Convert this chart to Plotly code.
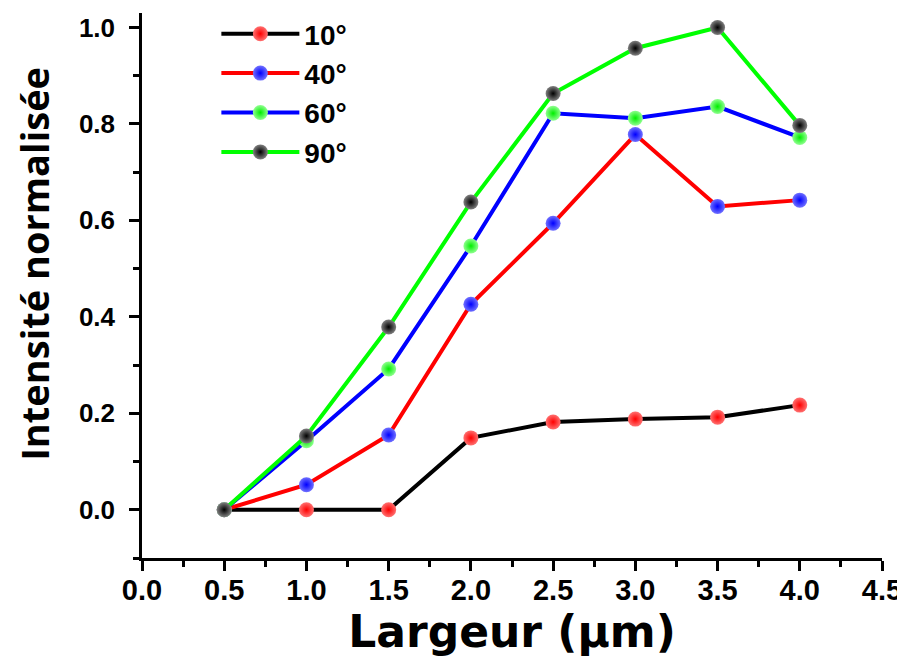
import plotly.graph_objects as go

largeur = [0.5, 1.0, 1.5, 2.0, 2.5, 3.0, 3.5, 4.0]
int_10 = [0.0, 0.0, 0.0, 0.149, 0.182, 0.188, 0.192, 0.217]
int_40 = [0.0, 0.052, 0.155, 0.426, 0.594, 0.778, 0.629, 0.642]
int_60 = [0.0, 0.143, 0.292, 0.547, 0.822, 0.812, 0.836, 0.772]
int_90 = [0.0, 0.153, 0.379, 0.638, 0.863, 0.957, 1.0, 0.797]
labels = ["10°", "40°", "60°", "90°"]
x_ticks = [0.0, 0.5, 1.0, 1.5, 2.0, 2.5, 3.0, 3.5, 4.0, 4.5]
y_ticks = [0.0, 0.2, 0.4, 0.6, 0.8, 1.0]

series = [int_10, int_40, int_60, int_90]
line_colors = ["#000000", "#FF0000", "#0000FF", "#00FF00"]
marker_centers = ["#FF7070", "#7070FF", "#90FF90", "#808080"]
marker_edges = ["#FF0000", "#0000FF", "#00EE00", "#000000"]

fig = go.Figure()
for vals, name, lc, mc, me in zip(series, labels, line_colors, marker_centers, marker_edges):
    fig.add_trace(go.Scatter(
        x=largeur, y=vals, name=name, mode="lines+markers",
        line=dict(color=lc, width=4),
        marker=dict(size=15, color=mc, gradient=dict(type="radial", color=me),
                    line=dict(width=0)),
    ))

fig.add_annotation(
    text="Intensité normalisée", textangle=-90,
    xref="paper", yref="paper", x=-0.1459, y=0.54,
    xanchor="center", yanchor="middle", showarrow=False,
    font=dict(size=38, family="Open Sans", weight="bold", color="black"),
)

fig.update_layout(
    width=897, height=656,
    margin=dict(l=134, r=23, t=5, b=106, autoexpand=False),
    paper_bgcolor="white", plot_bgcolor="white",
    font=dict(family="Liberation Sans, Arial, sans-serif", color="black"),
    showlegend=True,
    legend=dict(x=0.1005, y=1.0073, xanchor="left", yanchor="top",
                font=dict(size=28, family="Liberation Sans, Arial", weight="bold"),
                itemwidth=78, bgcolor="rgba(0,0,0,0)", borderwidth=0),
    xaxis=dict(
        range=[0, 4.5], tickvals=x_ticks, ticktext=[f"{v:.1f}" for v in x_ticks],
        showline=True, linecolor="black", linewidth=2.5, showgrid=False, zeroline=False,
        ticks="outside", ticklen=10, tickwidth=2.5, tickcolor="black",
        minor=dict(dtick=0.25, tick0=0, ticks="outside", ticklen=6, tickwidth=2.5, tickcolor="black"),
        tickfont=dict(size=29, family="Liberation Sans, Arial", weight="bold"),
        ticklabelstandoff=-6,
        automargin=False,
        title=dict(text="Largeur (µm)", standoff=11,
                   font=dict(size=44, family="DejaVu Sans", weight="bold")),
    ),
    yaxis=dict(
        range=[-0.1, 1.03], tickvals=y_ticks, ticktext=[f"{v:.1f}" for v in y_ticks],
        showline=True, linecolor="black", linewidth=2.5, showgrid=False, zeroline=False,
        ticks="outside", ticklen=10, tickwidth=2.5, tickcolor="black",
        minor=dict(dtick=0.1, tick0=0, ticks="outside", ticklen=6, tickwidth=2.5, tickcolor="black"),
        tickfont=dict(size=26, family="Liberation Sans, Arial", weight="bold"),
        ticklabelstandoff=9,
        automargin=False,
    ),
)

fig.write_html("out.html")
